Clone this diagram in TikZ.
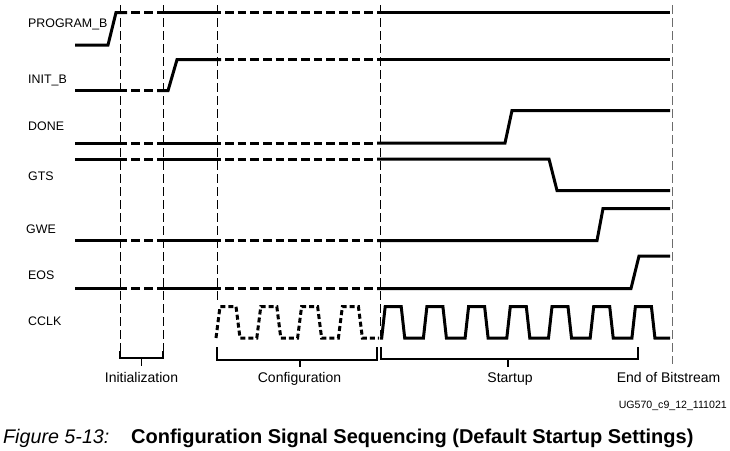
\documentclass[tikz,border=0pt]{standalone}
\usepackage{fontspec}
\setmainfont{Liberation Sans}
\tikzset{
  sig/.style={line width=3pt, line join=miter},
  sigdA/.style={sig, dash pattern=on 9pt off 4pt},
  sigdB/.style={sig, dash pattern=on 8.5pt off 4.18pt},
  clkdash/.style={sig, dash pattern=on 5pt off 3pt},
  vdash/.style={line width=0.9pt, dash pattern=on 9pt off 4pt},
  brk/.style={line width=1.1pt},
  siglabel/.style={anchor=base west, inner sep=0pt, font=\fontsize{12.4}{14}\selectfont},
  phlabel/.style={anchor=base, inner sep=0pt, font=\fontsize{14}{16}\selectfont}
}
\newcommand\gapline[1]{%
  \draw[sig] (75,#1) -- (127,#1);
  \draw[sigdA] (131,#1) -- (153,#1);
  \draw[sig] (157,#1) -- (221,#1);
  \draw[sigdB] (225,#1) -- (373,#1);}
\begin{document}
\begin{tikzpicture}[x=1pt,y=-1pt]
\useasboundingbox (0,0) rectangle (730,450);

% vertical dashed phase lines
\draw[vdash] (120,5) -- (120,351);
\draw[vdash] (163,5) -- (163,351);
\draw[vdash] (217,5) -- (217,300);
\draw[vdash] (380,5) -- (380,336);
\draw[vdash, gray!85!black] (672,5) -- (672,364);

% signal labels
\node[siglabel] (lprog) at (28,27.3) {PROGRAM\_B};
\node[siglabel] (linit) at (28,83.3) {INIT\_B};
\node[siglabel] (ldone) at (28,130.7) {DONE};
\node[siglabel] (lgts)  at (28,180.7) {GTS};
\node[siglabel] (lgwe)  at (26,233.3) {GWE};
\node[siglabel] (leos)  at (28,279.3) {EOS};
\node[siglabel] (lcclk) at (28,325) {CCLK};

% PROGRAM_B
\draw[sig] (75,45) -- (108,45) -- (116,12.5) -- (127,12.5);
\draw[sigdA] (131,12.5) -- (153,12.5);
\draw[sig] (157,12.5) -- (221,12.5);
\draw[sigdB] (225,12.5) -- (373,12.5);
\draw[sig] (377,12.5) -- (670,12.5);

% INIT_B
\draw[sig] (75,90.7) -- (127,90.7);
\draw[sigdA] (131,90.7) -- (153,90.7);
\draw[sig] (157,90.7) -- (168,90.7) -- (177,59.7) -- (221,59.7);
\draw[sigdB] (225,59.7) -- (373,59.7);
\draw[sig] (377,59.7) -- (670,59.7);

% DONE
\gapline{143}
\draw[sig] (377,143) -- (505,143) -- (512,110.5) -- (670,110.5);

% GTS
\gapline{159}
\draw[sig] (377,159) -- (549,159) -- (557,190.5) -- (670,190.5);

% GWE
\gapline{240.5}
\draw[sig] (377,240.5) -- (597,240.5) -- (603,208.5) -- (670,208.5);

% EOS
\gapline{288.5}
\draw[sig] (377,288.5) -- (631,288.5) -- (639,256) -- (670,256);

% CCLK (configuration, dashed)
\draw[clkdash] (216,338) \foreach \k in {0,...,3}{ -- ({220+40.8*\k},306.5) -- ({236+40.8*\k},306.5) -- ({240+40.8*\k},338) -- ({256.8+40.8*\k},338)};
% CCLK (startup)
\draw[sig] (380,338) \foreach \k in {0,...,6}{ -- ({381.7+41.7*\k},338) -- ({385.2+41.7*\k},306.5) -- ({401.2+41.7*\k},306.5) -- ({404.7+41.7*\k},338)} -- (670,338);

% brackets
\draw[brk] (120,351) -- (120,358) -- (163,358) -- (163,351);
\draw[brk] (141.5,358) -- (141.5,365.5);
\draw[brk] (217,347) -- (217,360) -- (377,360) -- (377,347);
\draw[brk] (300,360) -- (300,367);
\draw[brk] (381,347) -- (381,359) -- (638,359) -- (638,347);
\draw[brk] (508,359) -- (508,367);

% phase labels
\node[phlabel] (pinit) at (141.5,382) {Initialization};
\node[phlabel] (pconf) at (299.5,382) {Configuration};
\node[phlabel] (pstart) at (510,382) {Startup};
\node[phlabel] (pend) at (668.5,382) {End of Bitstream};

% figure id
\node[anchor=base east, inner sep=0pt, font=\fontsize{10.6}{12}\selectfont] (figid) at (727,408) {UG570\_c9\_12\_111021};

% caption
\node[anchor=base west, inner sep=0pt, font=\fontsize{19.7}{22}\selectfont\itshape] (capnum) at (3,443) {Figure 5-13:};
\node[anchor=base west, inner sep=0pt, font=\fontsize{20}{22}\selectfont\bfseries] (captext) at (131,443) {Configuration Signal Sequencing (Default Startup Settings)};
\end{tikzpicture}
\end{document}
